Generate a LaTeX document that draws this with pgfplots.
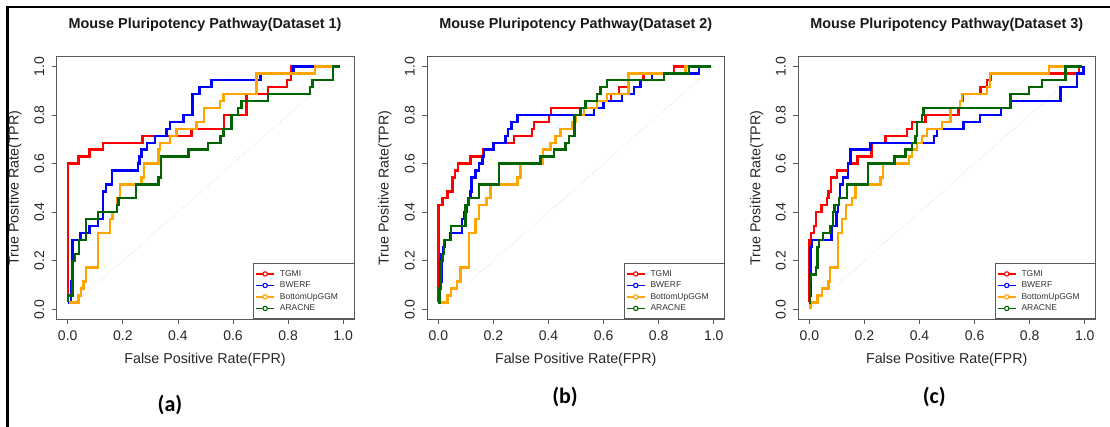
\documentclass[border=0pt]{standalone}
\usepackage{fontspec}
\setmainfont{Liberation Sans}
\newfontfamily\calib{Carlito}
\usepackage{pgfplots}
\pgfplotsset{compat=1.18}
\definecolor{rred}{HTML}{FF0000}
\definecolor{rblue}{HTML}{0000FF}
\definecolor{rorange}{HTML}{FFA500}
\definecolor{rdgreen}{HTML}{006400}
\definecolor{boxgray}{HTML}{5A5A5A}
\pgfplotsset{
  rocax/.style={
    scale only axis, width=297.5pt, height=262.3pt,
    xmin=-0.04, xmax=1.04, ymin=-0.04, ymax=1.04,
    xtick={0,0.2,0.4,0.6,0.8,1}, ytick={0,0.2,0.4,0.6,0.8,1},
    tick pos=left, tick align=outside, major tick length=5pt,
    every tick/.style={boxgray, line width=0.7pt},
    axis line style={boxgray, line width=0.7pt},
    /pgf/number format/fixed, /pgf/number format/fixed zerofill,
    /pgf/number format/precision=1, /pgf/number format/assume math mode=true,
    tick label style={font=\fontsize{14}{16}\selectfont, text=black!85},
    yticklabel style={rotate=90, anchor=south},
    xticklabel shift=3pt, yticklabel shift=4pt,
    legend style={at={(1,0)}, anchor=south east, draw=boxgray, line width=0.6pt,
      inner xsep=2pt, inner ysep=4.5pt, row sep=0pt,
      font=\fontsize{8.5}{10}\selectfont, text=black!80,
      nodes={text width=70pt, text height=6pt, text depth=1.5pt, inner ysep=2pt},
      column sep=3pt},
    legend cell align=left,
    legend image code/.code={
      \draw[##1, line width=1.5pt] (0pt,0pt) -- (18pt,0pt);
      \draw[##1, line width=1.1pt, fill=white] (9pt,0pt) circle (2.2pt);},
  },
  roc/.style={const plot mark left, line width=2.4pt, line join=miter},
}
\begin{document}
\begin{tikzpicture}[x=1pt,y=1pt]
\path[use as bounding box] (0pt,0pt) rectangle (1110pt,427pt);
\draw[line width=2.2pt] (7.5pt,0pt) -- (7.5pt,419.7pt) -- (1110pt,419.7pt);

% ---------------- Panel 1 ----------------
\begin{axis}[rocax, at={(56.7pt,108pt)}, anchor=south west]
\addplot[dotted, gray!45, line width=0.6pt, forget plot] coordinates {(0,0) (1,1)};
\addplot[roc, rred] coordinates {(0,0.0286)(0,0.6)(0.039,0.6286)(0.079,0.6571)(0.127,0.6857)(0.272,0.7143)(0.45,0.7429)(0.568,0.8)(0.649,0.8857)(0.728,0.9143)(0.797,0.9429)(0.81,1)(0.99,1)};
\addplot[roc, rblue] coordinates {(0,0.0286)(0.011,0.1143)(0.018,0.2857)(0.047,0.3143)(0.079,0.3429)(0.111,0.3714)(0.127,0.4857)(0.139,0.5143)(0.16,0.5714)(0.256,0.6)(0.26,0.6286)(0.268,0.6571)(0.287,0.6857)(0.317,0.7143)(0.359,0.7429)(0.371,0.7714)(0.42,0.8)(0.453,0.8857)(0.478,0.9143)(0.522,0.9429)(0.7,0.9714)(0.819,1)(0.99,1)};
\addplot[roc, rorange] coordinates {(0.005,0.0286)(0.039,0.0571)(0.048,0.0857)(0.057,0.1143)(0.067,0.1714)(0.109,0.3143)(0.154,0.3714)(0.163,0.4)(0.178,0.4571)(0.19,0.5143)(0.268,0.5429)(0.277,0.6)(0.329,0.6571)(0.335,0.6857)(0.371,0.7143)(0.395,0.7429)(0.468,0.7714)(0.495,0.8286)(0.553,0.8571)(0.565,0.8857)(0.686,0.9714)(0.897,1)(0.99,1)};
\addplot[roc, rdgreen] coordinates {(0,0.0286)(0,0.0571)(0.018,0.2)(0.027,0.2286)(0.042,0.2857)(0.067,0.3714)(0.111,0.4)(0.178,0.4286)(0.184,0.4571)(0.248,0.5143)(0.329,0.5429)(0.339,0.6286)(0.438,0.6571)(0.51,0.6857)(0.555,0.7143)(0.565,0.7429)(0.595,0.8)(0.619,0.8286)(0.631,0.8571)(0.728,0.8857)(0.879,0.9143)(0.889,0.9429)(0.964,1)(0.99,1)};
\legend{TGMI, BWERF, BottomUpGGM, ARACNE}
\end{axis}

% ---------------- Panel 2 ----------------
\begin{axis}[rocax, at={(427.3pt,108pt)}, anchor=south west]
\addplot[dotted, gray!45, line width=0.6pt, forget plot] coordinates {(0,0) (1,1)};
\addplot[roc, rred] coordinates {(0,0.0286)(0,0.4286)(0.015,0.4571)(0.033,0.4857)(0.051,0.5429)(0.06,0.5714)(0.072,0.6)(0.117,0.6286)(0.163,0.6571)(0.2,0.6857)(0.274,0.7143)(0.34,0.7429)(0.347,0.7714)(0.401,0.8)(0.41,0.8286)(0.6,0.8571)(0.627,0.8857)(0.655,0.9143)(0.69,0.9429)(0.745,0.9714)(0.855,1)(0.99,1)};
\addplot[roc, rblue] coordinates {(0,0.0286)(0.006,0.1143)(0.011,0.2286)(0.018,0.2571)(0.023,0.2857)(0.043,0.3143)(0.087,0.3714)(0.093,0.4)(0.103,0.4286)(0.111,0.4571)(0.117,0.4857)(0.12,0.5429)(0.135,0.5714)(0.147,0.6)(0.16,0.6286)(0.166,0.6571)(0.2,0.6857)(0.244,0.7143)(0.253,0.7429)(0.265,0.7714)(0.287,0.8)(0.565,0.8286)(0.6,0.8571)(0.667,0.8857)(0.71,0.9143)(0.734,0.9429)(0.776,0.9714)(0.946,1)(0.99,1)};
\addplot[roc, rorange] coordinates {(0.005,0.0286)(0.033,0.0571)(0.045,0.0857)(0.067,0.1143)(0.081,0.1714)(0.111,0.3143)(0.135,0.3714)(0.147,0.4286)(0.175,0.4571)(0.19,0.5143)(0.287,0.5429)(0.299,0.6)(0.38,0.6571)(0.407,0.6857)(0.426,0.7143)(0.444,0.7429)(0.486,0.7714)(0.498,0.8)(0.528,0.8286)(0.577,0.8571)(0.613,0.8857)(0.69,0.9714)(0.897,1)(0.99,1)};
\addplot[roc, rdgreen] coordinates {(0,0.0286)(0.004,0.0857)(0.008,0.2)(0.015,0.2286)(0.021,0.2857)(0.045,0.3429)(0.099,0.4286)(0.11,0.4571)(0.148,0.5143)(0.22,0.6)(0.371,0.6286)(0.42,0.6571)(0.462,0.6857)(0.474,0.7143)(0.495,0.8)(0.516,0.8286)(0.534,0.8571)(0.577,0.8857)(0.589,0.9143)(0.613,0.9429)(0.819,0.9714)(0.909,1)(0.99,1)};
\legend{TGMI, BWERF, BottomUpGGM, ARACNE}
\end{axis}

% ---------------- Panel 3 ----------------
\begin{axis}[rocax, at={(798.3pt,108pt)}, anchor=south west]
\addplot[dotted, gray!45, line width=0.6pt, forget plot] coordinates {(0,0) (1,1)};
\addplot[roc, rred] coordinates {(0,0.0286)(0,0.2857)(0.007,0.3143)(0.016,0.3429)(0.025,0.4)(0.044,0.4286)(0.064,0.4571)(0.07,0.4857)(0.079,0.5429)(0.1,0.5714)(0.14,0.6)(0.175,0.6286)(0.225,0.6857)(0.276,0.7143)(0.355,0.7429)(0.373,0.7714)(0.421,0.8)(0.542,0.8286)(0.548,0.8571)(0.558,0.8857)(0.621,0.9143)(0.645,0.9429)(0.657,0.9714)(0.978,1)(0.99,1)};
\addplot[roc, rblue] coordinates {(0,0.0571)(0.004,0.2571)(0.01,0.2857)(0.08,0.3429)(0.098,0.4)(0.104,0.4286)(0.108,0.4571)(0.112,0.5143)(0.122,0.5429)(0.14,0.6)(0.15,0.6571)(0.222,0.6857)(0.452,0.7143)(0.464,0.7429)(0.56,0.7714)(0.62,0.8)(0.696,0.8286)(0.732,0.8571)(0.912,0.9143)(0.972,0.9714)(0.995,1)};
\addplot[roc, rorange] coordinates {(0.004,0)(0.004,0.0286)(0.03,0.0571)(0.046,0.0857)(0.07,0.1143)(0.074,0.1714)(0.104,0.3143)(0.119,0.3714)(0.134,0.4286)(0.155,0.4571)(0.167,0.5143)(0.258,0.5429)(0.268,0.6)(0.361,0.6286)(0.373,0.6571)(0.391,0.6857)(0.409,0.7143)(0.427,0.7429)(0.482,0.7714)(0.512,0.8286)(0.546,0.8571)(0.554,0.8857)(0.645,0.9143)(0.655,0.9714)(0.869,1)(0.99,1)};
\addplot[roc, rdgreen] coordinates {(0,0.0286)(0.003,0.1143)(0.006,0.1429)(0.025,0.1714)(0.03,0.2571)(0.036,0.2857)(0.05,0.3143)(0.076,0.3429)(0.086,0.4)(0.091,0.4286)(0.107,0.4571)(0.137,0.5143)(0.212,0.6)(0.309,0.6286)(0.349,0.6571)(0.373,0.6857)(0.385,0.7143)(0.391,0.7714)(0.409,0.8)(0.415,0.8286)(0.73,0.8857)(0.797,0.9143)(0.845,0.9429)(0.93,1)(0.99,1)};
\legend{TGMI, BWERF, BottomUpGGM, ARACNE}
\end{axis}

% ---------------- Texts ----------------
\foreach \cx/\n in {205/1, 575.7/2, 946.7/3}{
  \node[font=\bfseries\fontsize{14.4}{17}\selectfont, text=black!90] at (\cx pt,402pt) {Mouse Pluripotency Pathway(Dataset \n)};
  \node[font=\fontsize{14.3}{17}\selectfont, text=black!85] at (\cx pt,67pt) {False Positive Rate(FPR)};
}
\foreach \cx in {15, 385, 756.7}{
  \node[rotate=90, font=\fontsize{14.3}{17}\selectfont, text=black!85] at (\cx pt,239pt) {True Positive Rate(TPR)};
}
\node[font=\calib\bfseries\fontsize{22}{25}\selectfont] at (170pt,22pt) {(a)};
\node[font=\calib\bfseries\fontsize{22}{25}\selectfont] at (565pt,30pt) {(b)};
\node[font=\calib\bfseries\fontsize{22}{25}\selectfont] at (934.3pt,30pt) {(c)};
\end{tikzpicture}
\end{document}
